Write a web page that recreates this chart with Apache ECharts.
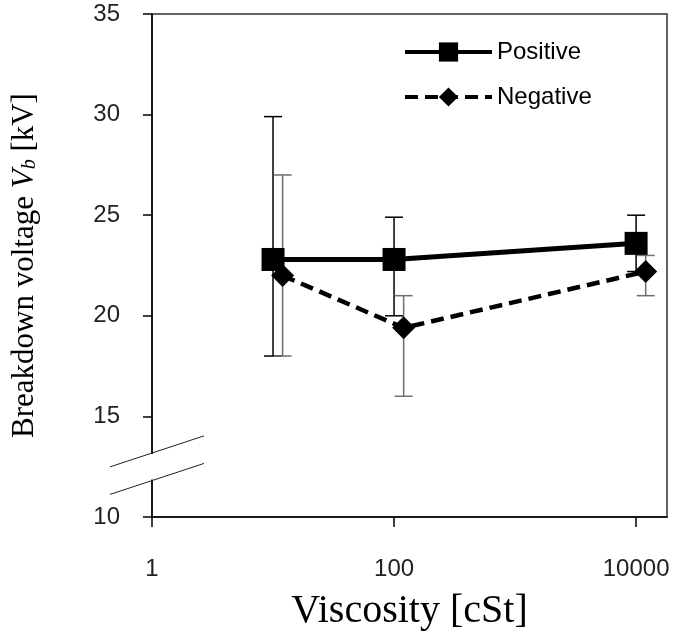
<!DOCTYPE html>
<html><head><meta charset="utf-8">
<script src="https://cdn.jsdelivr.net/npm/echarts@6/dist/echarts.min.js"></script>
<style>html,body{margin:0;padding:0;background:#fff}#c{width:677px;height:641px}</style>
</head><body><div id="c"></div>
<script>
// x tick labels (log axis, cSt)
const xTickValues = [1, 100, 10000];
// Positive polarity
const posX = [10, 100, 10000];
const posY = [22.8, 22.8, 23.6];
const posLow = [18, 20, 22.2];
const posHigh = [29.9, 24.9, 25];
// Negative polarity
const negX = [12, 120, 12000];
const negY = [22.0, 19.4, 22.2];
const negLow = [18, 16, 21];
const negHigh = [27, 21, 23];

const chart = echarts.init(document.getElementById('c'));

function errRender(color) {
  return function (params, api) {
    const x = api.value(0), lo = api.value(1), hi = api.value(2);
    const a = api.coord([x, lo]), b = api.coord([x, hi]);
    const cap = 9;
    const st = {stroke: color, lineWidth: 1.5};
    return {type: 'group', children: [
      {type: 'line', shape: {x1: a[0], y1: a[1], x2: b[0], y2: b[1]}, style: st},
      {type: 'line', shape: {x1: a[0] - cap, y1: a[1], x2: a[0] + cap, y2: a[1]}, style: st},
      {type: 'line', shape: {x1: b[0] - cap, y1: b[1], x2: b[0] + cap, y2: b[1]}, style: st}
    ]};
  };
}

const sans = 'Liberation Sans';
const serif = 'Liberation Serif';

chart.setOption({
  animation: false,
  backgroundColor: '#fff',
  grid: {left: 152, top: 14, right: 10, bottom: 124, show: true, borderColor: '#333', borderWidth: 1.5},
  legend: {
    orient: 'vertical', left: 403, top: 40, padding: 0, itemWidth: 87, itemHeight: 24, itemGap: 21,
    lineStyle: {width: 4},
    textStyle: {fontFamily: sans, fontSize: 24, color: '#000'},
    data: ['Positive', 'Negative']
  },
  xAxis: {
    type: 'log', logBase: 10, min: 1, max: 18000,
    axisLine: {lineStyle: {color: '#000', width: 1.5}},
    axisTick: {show: true, length: 10, customValues: xTickValues, lineStyle: {color: '#000', width: 1.5}},
    axisLabel: {customValues: xTickValues, margin: 40, fontFamily: sans, fontSize: 24, color: '#222',
      formatter: v => String(Math.round(v))},
    splitLine: {show: false}, minorTick: {show: false},
    name: 'Viscosity [cSt]', nameLocation: 'middle', nameGap: 74,
    nameTextStyle: {fontFamily: serif, fontSize: 40, color: '#000'}
  },
  yAxis: {
    type: 'value', min: 10, max: 35, interval: 5,
    axisLine: {show: true, lineStyle: {color: '#000', width: 1.5}},
    axisTick: {show: true, length: 9, lineStyle: {color: '#000', width: 1.5}},
    axisLabel: {margin: 32, fontFamily: sans, fontSize: 24, color: '#222'},
    splitLine: {show: false},
    name: '{n|Breakdown voltage }{i|V}{s|b}{n| [kV]}', nameLocation: 'middle', nameGap: 112,
    nameTextStyle: {
      color: '#000',
      rich: {
        n: {fontFamily: serif, fontSize: 31, lineHeight: 36, verticalAlign: 'bottom', color: '#000'},
        i: {fontFamily: serif, fontSize: 31, fontStyle: 'italic', lineHeight: 36, verticalAlign: 'bottom', color: '#000'},
        s: {fontFamily: serif, fontSize: 20, fontStyle: 'italic', lineHeight: 12, verticalAlign: 'bottom', color: '#000'}
      }
    }
  },
  series: [
    {
      type: 'custom', name: 'posErr', z: 1, silent: true,
      renderItem: errRender('#000'),
      data: posX.map((x, i) => [x, posLow[i], posHigh[i]]),
      encode: {x: 0, y: [1, 2]}
    },
    {
      type: 'custom', name: 'negErr', z: 1, silent: true,
      renderItem: errRender('#6e6e6e'),
      data: negX.map((x, i) => [x, negLow[i], negHigh[i]]),
      encode: {x: 0, y: [1, 2]}
    },
    {
      type: 'line', name: 'Negative', z: 3,
      data: negX.map((x, i) => [x, negY[i]]),
      symbol: 'diamond', symbolSize: 23,
      lineStyle: {color: '#000', width: 4.5, type: [13, 7]},
      itemStyle: {color: '#000'}
    },
    {
      type: 'line', name: 'Positive', z: 4,
      data: posX.map((x, i) => [x, posY[i]]),
      symbol: 'rect', symbolSize: 23,
      lineStyle: {color: '#000', width: 5},
      itemStyle: {color: '#000'}
    }
  ]
});

// axis-break decoration on the y axis
const up = chart.convertToPixel({gridIndex: 0}, [1, 13.18]);
const lo = chart.convertToPixel({gridIndex: 0}, [1, 11.81]);
const k = 31 / 94;
function slash(p) {
  return {type: 'line', z: 100,
    shape: {x1: p[0] - 42, y1: p[1] + 42 * k, x2: p[0] + 52, y2: p[1] - 52 * k},
    style: {stroke: '#222', lineWidth: 1}};
}
chart.setOption({graphic: [
  {type: 'rect', z: 99, shape: {x: up[0] - 3, y: up[1] + 1, width: 6, height: lo[1] - up[1] - 2}, style: {fill: '#fff'}},
  slash(up), slash(lo)
]});
</script>
</body></html>
